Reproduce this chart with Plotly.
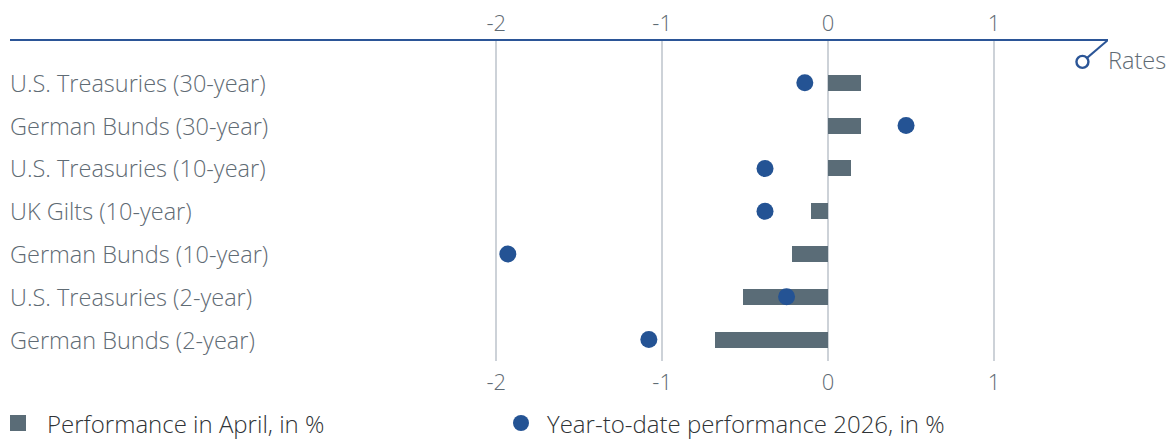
import plotly.graph_objects as go

# Government bond performance data (in %)
categories = [
    "U.S. Treasuries (30-year)",
    "German Bunds (30-year)",
    "U.S. Treasuries (10-year)",
    "UK Gilts (10-year)",
    "German Bunds (10-year)",
    "U.S. Treasuries (2-year)",
    "German Bunds (2-year)",
]
april_perf = [0.20, 0.20, 0.14, -0.10, -0.22, -0.51, -0.68]
ytd_perf = [-0.14, 0.47, -0.38, -0.38, -1.93, -0.25, -1.08]
tick_vals = [-2, -1, 0, 1]
tick_text = ["-2", "-1", "0", "1"]
legend_names = ["Performance in April, in %", "Year-to-date performance 2026, in %"]

BAR_COLOR = "#5a6c77"
DOT_COLOR = "#245394"
LINE_BLUE = "#2b5597"
GRID = "#cdd2d8"
TEXT = "#5f6b74"
FONT = "Open Sans"
FS = 23.5

rows = list(range(len(categories)))
x_range = [-4.93, 1.687]

fig = go.Figure()
fig.add_trace(go.Bar(
    x=april_perf, y=rows, orientation="h", width=0.37,
    marker=dict(color=BAR_COLOR, line=dict(width=0)),
    name=legend_names[0], showlegend=False,
))
fig.add_trace(go.Scatter(
    x=ytd_perf, y=rows, mode="markers",
    marker=dict(color=DOT_COLOR, size=17, line=dict(width=0)),
    name=legend_names[1], showlegend=False,
))
# invisible trace to drive the top tick labels
fig.add_trace(go.Scatter(x=[0], y=[0], xaxis="x2", mode="markers",
                         marker=dict(opacity=0), showlegend=False, hoverinfo="skip"))

# row labels
for i, c in enumerate(categories):
    fig.add_annotation(x=0, xref="paper", y=i, yref="y", text=c, showarrow=False,
                       xanchor="left", yanchor="middle", xshift=-2,
                       font=dict(family=FONT, size=FS, color=TEXT, weight=300))

# top axis line with the "Rates" marker
fig.add_shape(type="line", xref="paper", yref="paper", x0=0, x1=1, y0=1, y1=1,
              line=dict(color=LINE_BLUE, width=2))
fig.add_shape(type="line", xref="x", yref="y", x0=x_range[1], y0=-1.0,
              x1=1.545, y1=-0.53, line=dict(color=LINE_BLUE, width=2))
fig.add_shape(type="circle", xref="x", yref="y", xsizemode="pixel", ysizemode="pixel",
              xanchor=1.533, yanchor=-0.49, x0=-6, x1=6, y0=-6, y1=6,
              line=dict(color=LINE_BLUE, width=2.4), fillcolor="white")
fig.add_annotation(x=1.0, xref="paper", xanchor="left", y=-0.53, yref="y",
                   yanchor="middle", text="Rates", showarrow=False, xshift=-2,
                   font=dict(family=FONT, size=FS, color=TEXT, weight=300))

# legend drawn below the plot (pixel offsets from the paper origin)
W_PLOT = 1174 - 10 - 66
H_PLOT = 440 - 40 - 79
def px_x(p):
    return (p - 10) / W_PLOT
def px_y(p):
    return (440 - 79 - p) / H_PLOT

fig.add_shape(type="rect", xref="paper", yref="paper",
              x0=px_x(10), x1=px_x(26), y0=px_y(431), y1=px_y(415),
              fillcolor=BAR_COLOR, line=dict(width=0))
fig.add_shape(type="circle", xref="paper", yref="paper",
              x0=px_x(513), x1=px_x(529), y0=px_y(431), y1=px_y(415),
              fillcolor=DOT_COLOR, line=dict(width=0))
for lx, name in zip([47, 547], legend_names):
    fig.add_annotation(x=px_x(lx), xref="paper", y=px_y(423), yref="paper",
                       xanchor="left", yanchor="middle", text=name, showarrow=False,
                       xshift=-2,
                       font=dict(family=FONT, size=24, color="#2f3336", weight=300))

axis_common = dict(range=x_range, tickvals=tick_vals, ticktext=tick_text,
                   tickfont=dict(family=FONT, size=22, color=TEXT, weight=300),
                   showline=False, zeroline=False, ticks="", automargin=False)
fig.update_layout(
    width=1174, height=440,
    margin=dict(l=10, r=66, t=40, b=79),
    paper_bgcolor="white", plot_bgcolor="white",
    bargap=0,
    xaxis=dict(**axis_common, showgrid=True, gridcolor=GRID, gridwidth=2, side="bottom",
               ticklabelstandoff=6),
    xaxis2=dict(**axis_common, showgrid=False, overlaying="x", side="top", matches="x",
                ticklabelstandoff=4),
    yaxis=dict(range=[6.5, -1.0], showgrid=False, showticklabels=False,
               zeroline=False, showline=False, automargin=False),
    showlegend=False,
)

fig.write_html("out.html")
